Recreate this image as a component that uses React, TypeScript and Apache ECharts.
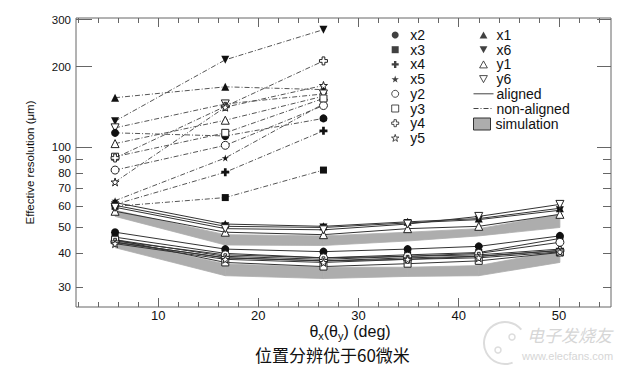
import React, { useEffect, useRef } from 'react';
import * as echarts from 'echarts';

// ---------- data ----------
const angles = [5.7, 16.7, 26.5, 34.9, 42.0, 50.1];
const nonAlignedAngles = [5.7, 16.7, 26.5];

// non-aligned (dash-dot) measurements, µm
const naX1 = [153, 168, 164];
const naX6 = [125, 212, 275];
const naY1 = [103, 126, 155];
const naY6 = [118, 145, 158];
const naX2 = [113, 110, 128];
const naX3 = [60, 64.7, 82];
const naX4 = [61, 80.5, 115];
const naX5 = [63, 91, 145];
const naY2 = [82, 101.5, 143];
const naY3 = [92, 113, 152];
const naY4 = [91, 142, 210];
const naY5 = [74, 141, 170];

// aligned (solid) measurements, µm
const alX1 = [62, 51.5, 50.5, 52.5, 54, 59];
const alX6 = [60.5, 50.5, 50, 52, 53.5, 58];
const alY6 = [59.5, 49.5, 49, 51.5, 55, 61];
const alY1 = [57.5, 48, 47, 49.5, 50.5, 56];
const alX2 = [48, 41.5, 40.6, 41.5, 42.5, 46.5];
const alX3 = [46, 40, 38.5, 39.5, 40.3, 45.5];
const alX4 = [45, 39, 38, 39, 39.5, 41.5];
const alX5 = [44, 38.5, 37.5, 38.5, 39, 41];
const alY2 = [44.5, 39.5, 38.5, 39, 40, 44];
const alY3 = [45, 37, 35.7, 36.6, 37.5, 40.3];
const alY4 = [44, 38.5, 37.5, 38, 39, 41];
const alY5 = [43.5, 38, 37, 38, 38.5, 40.5];

// simulation bands
const simUpperLow = [55, 43, 42.8, 44.5, 46.5, 50];
const simUpperHigh = [58, 47, 46.5, 48, 49.5, 56];
const simLowerLow = [42, 33, 32.2, 32.8, 33, 37];
const simLowerHigh = [45, 36.5, 35.5, 35.5, 36, 41];

// ticks
const yLabelValues = [30, 40, 50, 60, 70, 80, 90, 100, 200, 300];
const yMinorTicks = [30, 40, 50, 60, 70, 80, 90];
const yMajorTicks = [100, 200, 300];
const xLabelValues = [10, 20, 30, 40, 50];
const xMinorTicks = [2, 4, 6, 8, 12, 14, 16, 18, 22, 24, 26, 28, 32, 34, 36, 38, 42, 44, 46, 48, 52, 54];
const xMajorTicks = [10, 20, 30, 40, 50];

const leftLegend = ['x2', 'x3', 'x4', 'x5', 'y2', 'y3', 'y4', 'y5'];
const rightLegend = ['x1', 'x6', 'y1', 'y6', 'aligned', 'non-aligned'];

// x-axis title pieces (sub = subscript)
const xTitlePieces: [string, boolean][] = [['θ', false], ['x', true], ['(θ', false], ['y', true], [') (deg)', false]];

// ---------- styles ----------
const FONT = '"Liberation Sans", Arial, Helvetica, sans-serif';
const STAR = 'path://M50,0L61.8,35.5L99,35.5L69,57.5L80.5,93L50,71L19.5,93L31,57.5L1,35.5L38.2,35.5Z';
const PLUS = 'path://M33,0H67V33H100V67H67V100H33V67H0V33H33Z';
const UP = 'path://M50,0L100,90H0Z';
const DOWN = 'path://M0,0H100L50,90Z';
const SQUARE = 'path://M0,0H100V100H0Z';

const MARK: Record<string, { symbol: string; filled: boolean; size?: number }> = {
  x1: { symbol: UP, filled: true },
  x6: { symbol: DOWN, filled: true },
  y1: { symbol: UP, filled: false },
  y6: { symbol: DOWN, filled: false },
  x2: { symbol: 'circle', filled: true },
  x3: { symbol: SQUARE, filled: true, size: 7 },
  x4: { symbol: PLUS, filled: true },
  x5: { symbol: STAR, filled: true, size: 7 },
  y2: { symbol: 'circle', filled: false },
  y3: { symbol: SQUARE, filled: false, size: 7 },
  y4: { symbol: PLUS, filled: false },
  y5: { symbol: STAR, filled: false },
};

const itemStyleOf = (k: string) =>
  MARK[k].filled
    ? { color: '#111', borderColor: '#111', borderWidth: 0 }
    : { color: '#fff', borderColor: '#222', borderWidth: 1 };

const lg = (v: number) => Math.log10(v);
const pts = (xs: number[], ys: number[]) => xs.map((x, i) => [x, lg(ys[i])]);

const DASHDOT = [5, 2, 1, 2];
const BAND = '#adadad';

function xTitleGraphic(cx: number, cy: number) {
  const mainFont = '16px ' + FONT;
  const subFont = '11px ' + FONT;
  const ctx = document.createElement('canvas').getContext('2d');
  const widths = xTitlePieces.map(([t, sub]) => {
    if (!ctx) return t.length * (sub ? 6 : 8);
    ctx.font = sub ? subFont : mainFont;
    return ctx.measureText(t).width;
  });
  const total = widths.reduce((a, b) => a + b, 0);
  let x = cx - total / 2;
  return xTitlePieces.map(([t, sub], i) => {
    const el = {
      type: 'text', x, y: sub ? cy + 5 : cy, silent: true,
      style: { text: t, font: sub ? subFont : mainFont, fill: '#111', textAlign: 'left', textVerticalAlign: 'middle' },
    };
    x += widths[i];
    return el;
  });
}

export default function App() {
  const ref = useRef<HTMLDivElement>(null);

  useEffect(() => {
    if (!ref.current) return;
    const chart = echarts.init(ref.current, null, { renderer: 'svg' });

    const naSets: [string, number[]][] = [
      ['x1', naX1], ['x6', naX6], ['y1', naY1], ['y6', naY6],
      ['x2', naX2], ['x3', naX3], ['x4', naX4], ['x5', naX5],
      ['y2', naY2], ['y3', naY3], ['y4', naY4], ['y5', naY5],
    ];
    const alSets: [string, number[]][] = [
      ['x1', alX1], ['x6', alX6], ['y1', alY1], ['y6', alY6],
      ['x2', alX2], ['x3', alX3], ['x4', alX4], ['x5', alX5],
      ['y2', alY2], ['y3', alY3], ['y4', alY4], ['y5', alY5],
    ];

    const series: any[] = [];

    // simulation bands (custom polygons through the axis scales)
    const band = (lo: number[], hi: number[]) => ({
      type: 'custom', silent: true, z: 1,
      data: angles.map((x, i) => [x, lg(lo[i]), lg(hi[i])]),
      encode: { x: 0, y: [1, 2] },
      renderItem: (params: any, api: any) => {
        const i = params.dataIndexInside;
        if (i >= params.dataInsideLength - 1) return { type: 'group', children: [] };
        const a = [api.value(0, i), api.value(1, i), api.value(2, i)];
        const b = [api.value(0, i + 1), api.value(1, i + 1), api.value(2, i + 1)];
        const points = [
          api.coord([a[0], a[1]]), api.coord([b[0], b[1]]),
          api.coord([b[0], b[2]]), api.coord([a[0], a[2]]),
        ];
        return { type: 'polygon', shape: { points }, style: { fill: BAND, stroke: BAND, lineWidth: 0.8 } };
      },
    });
    series.push(band(simUpperLow, simUpperHigh));
    series.push(band(simLowerLow, simLowerHigh));

    naSets.forEach(([k, ys]) => {
      series.push({
        name: k + ' non-aligned', type: 'line', silent: true, z: 3,
        data: pts(nonAlignedAngles, ys),
        symbol: MARK[k].symbol, symbolSize: MARK[k].size ?? 8,
        lineStyle: { color: '#555', width: 1, type: DASHDOT },
        itemStyle: itemStyleOf(k),
      });
    });
    alSets.forEach(([k, ys]) => {
      series.push({
        name: k + ' aligned', type: 'line', silent: true, z: 4,
        data: pts(angles, ys),
        symbol: MARK[k].symbol, symbolSize: MARK[k].size ?? 8,
        lineStyle: { color: '#333', width: 1 },
        itemStyle: itemStyleOf(k),
      });
    });

    // legend-only series
    Object.keys(MARK).forEach((k) => {
      series.push({
        name: k, type: 'scatter', data: [], symbol: MARK[k].symbol,
        symbolSize: 7, itemStyle: itemStyleOf(k),
      });
    });
    series.push({ name: 'aligned', type: 'line', data: [], symbol: 'none', itemStyle: { color: '#444' }, lineStyle: { color: '#444', width: 1 } });
    series.push({ name: 'non-aligned', type: 'line', data: [], symbol: 'none', itemStyle: { color: '#444' }, lineStyle: { color: '#444', width: 1, type: DASHDOT } });
    series.push({ name: 'simulation', type: 'line', data: [], symbol: 'none', lineStyle: { width: 0 }, itemStyle: { color: BAND } });

    const legendText = { fontFamily: FONT, fontSize: 14, color: '#111', lineHeight: 14 };
    const legendData = (names: string[]) =>
      names.map((n) =>
        MARK[n]
          ? { name: n, icon: MARK[n].symbol, itemStyle: itemStyleOf(n) }
          : {
              name: n, itemStyle: { opacity: 0 },
              lineStyle: { color: '#444', width: 1, type: n === 'aligned' ? 'solid' : DASHDOT },
            }
      );

    const yMin = lg(25.2);
    const yMax = lg(304);
    const xMin = 1.8;
    const xMax = 55.2;
    const tickLine = { color: '#666', width: 1 };

    const yBase = {
      type: 'value', min: yMin, max: yMax, axisLine: { show: false, onZero: false },
      splitLine: { show: false }, axisLabel: { show: false },
    };
    const xBase = {
      type: 'value', min: xMin, max: xMax, axisLine: { show: false, onZero: false },
      splitLine: { show: false }, axisLabel: { show: false },
    };

    const option: any = {
      animation: false,
      backgroundColor: '#fff',
      grid: { left: 76, right: 19, top: 18, bottom: 65, show: true, borderColor: '#666', borderWidth: 1, backgroundColor: 'transparent' },
      xAxis: [
        { ...xBase, position: 'bottom', axisTick: { inside: true, length: 5, customValues: xMinorTicks, lineStyle: tickLine } },
        {
          ...xBase, position: 'bottom',
          axisTick: { inside: true, length: 9, customValues: xMajorTicks, lineStyle: tickLine },
          axisLabel: { show: true, customValues: xLabelValues, margin: 2, fontSize: 13, fontFamily: FONT, color: '#111' },
        },
        { ...xBase, position: 'top', axisTick: { inside: true, length: 5, customValues: xMinorTicks, lineStyle: tickLine } },
        { ...xBase, position: 'top', axisTick: { inside: true, length: 9, customValues: xMajorTicks, lineStyle: tickLine } },
      ],
      yAxis: [
        {
          ...yBase, position: 'left',
          axisTick: { inside: true, length: 7, customValues: yMinorTicks.map(lg), lineStyle: tickLine },
          axisLabel: {
            show: true, customValues: yLabelValues.map(lg), margin: 5, fontSize: 11.5, lineHeight: 10.5, fontFamily: FONT, color: '#111',
            formatter: (v: number) => String(Math.round(Math.pow(10, v))),
          },
          name: 'Effective resolution (μm)', nameLocation: 'middle', nameGap: 40, nameRotate: 90,
          nameTextStyle: { fontFamily: FONT, fontSize: 11.5, color: '#111' },
        },
        { ...yBase, position: 'left', axisTick: { inside: true, length: 16, customValues: yMajorTicks.map(lg), lineStyle: tickLine } },
        { ...yBase, position: 'right', axisTick: { inside: true, length: 8, customValues: yMinorTicks.map(lg), lineStyle: tickLine } },
        { ...yBase, position: 'right', axisTick: { inside: true, length: 14, customValues: yMajorTicks.map(lg), lineStyle: tickLine } },
      ],
      legend: [
        {
          orient: 'vertical', left: 391, top: 28, padding: 0, itemWidth: 8, itemHeight: 7, itemGap: 0.7,
          selectedMode: false, textStyle: { ...legendText, padding: [0, 0, 0, 6] }, data: legendData(leftLegend),
        },
        {
          orient: 'vertical', left: 473, top: 28, padding: 0, itemWidth: 20, itemHeight: 7, itemGap: 0.7,
          selectedMode: false, textStyle: { ...legendText, padding: [0, 0, 0, -2] }, data: legendData(rightLegend),
        },
        {
          orient: 'vertical', left: 473, top: 117, padding: 0, itemWidth: 17, itemHeight: 12, itemGap: 0,
          selectedMode: false, textStyle: legendText,
          data: [{ name: 'simulation', icon: 'rect', itemStyle: { color: BAND, borderColor: '#333', borderWidth: 1 } }],
        },
      ],
      graphic: [
        ...xTitleGraphic(350, 331),
        {
          type: 'text', left: 255, top: 346, silent: true,
          style: { text: '位置分辨优于60微米', font: '17px "Noto Sans CJK SC", serif', fill: '#111' },
        },
        {
          type: 'arc', shape: { cx: 505, cy: 343, r: 21, startAngle: 1.2, endAngle: 5.6 }, silent: true,
          style: { stroke: '#dcdcdc', lineWidth: 2, fill: 'none' },
        },
        { type: 'circle', shape: { cx: 498, cy: 350, r: 3 }, silent: true, style: { stroke: '#dcdcdc', lineWidth: 1.5, fill: 'none' } },
        { type: 'circle', shape: { cx: 512, cy: 337, r: 3 }, silent: true, style: { stroke: '#dcdcdc', lineWidth: 1.5, fill: 'none' } },
        {
          type: 'text', left: 527, top: 326, silent: true,
          style: { text: '电子发烧友', font: 'italic 17px "Noto Sans CJK SC"', fill: '#d6d6d6' },
        },
        {
          type: 'text', left: 522, top: 350, silent: true,
          style: { text: 'www.elecfans.com', font: '11px ' + FONT, fill: '#d6d6d6' },
        },
      ],
      series,
    };

    chart.setOption(option);
    return () => chart.dispose();
  }, []);

  return <div ref={ref} style={{ position: 'fixed', left: 0, top: 0, width: 630, height: 372, background: '#fff' }} />;
}
